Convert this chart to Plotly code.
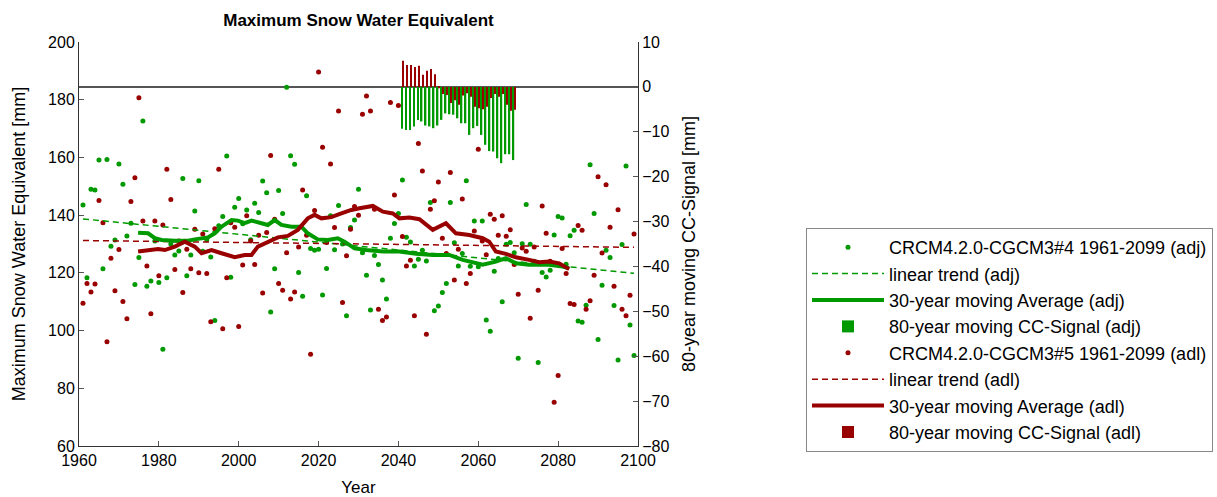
import plotly.graph_objects as go

years = list(range(1961, 2100))

swe_adj = [
    143.5, 118.3, 149.0, 148.7, 159.1, 121.4, 159.3, 129.2, 131.4, 157.7,
    150.7, 132.8, 137.2, 116.0, 125.3, 172.6, 115.4, 117.2, 131.0, 116.7,
    93.5, 118.3, 130.0, 126.2, 127.6, 152.7, 119.0, 126.2, 141.4, 151.9,
    127.5, 131.5, 125.5, 103.5, 136.3, 139.5, 160.5, 118.5, 142.7, 145.8,
    137.0, 141.8, 131.5, 144.1, 140.9, 151.8, 147.8, 106.4, 121.4, 148.5,
    140.6, 184.3, 160.6, 157.6, 120.1, 111.9, 146.7, 128.4, 127.8, 128.2,
    112.3, 121.5, 139.8, 128.0, 143.3, 130.0, 105.1, 135.7, 138.3, 149.0,
    127.0, 119.2, 107.1, 126.0, 122.9, 117.5, 110.9, 132.0, 137.1, 140.6,
    152.2, 132.3, 130.7, 122.4, 124.7, 127.8, 124.1, 144.4, 106.9, 108.5,
    113.2, 116.3, 144.4, 130.4, 122.4, 126.7, 151.9, 122.3, 138.0, 122.1,
    138.0, 103.7, 99.8, 120.6, 125.0, 110.0, 129.9, 130.5, 127.0, 90.4,
    130.1, 143.7, 129.9, 124.0, 88.9, 120.1, 118.6, 120.9, 133.1, 139.5,
    139.0, 123.0, 132.9, 134.8, 103.3, 102.9, 108.8, 157.5, 140.6, 96.9,
    115.7, 127.8, 125.3, 108.7, 89.8, 129.8, 157.0, 101.9, 91.4,
]

swe_adl = [
    109.5, 116.3, 113.4, 116.1, 145.1, 137.4, 96.1, 125.1, 113.8, 128.1,
    110.1, 104.1, 144.7, 153.0, 180.7, 138.0, 122.4, 105.8, 138.0, 119.0,
    136.6, 155.9, 145.4, 121.2, 131.0, 113.2, 128.2, 121.4, 135.1, 120.0,
    133.5, 119.8, 103.1, 135.3, 155.9, 100.6, 118.3, 137.4, 135.8, 101.4,
    122.7, 139.8, 131.0, 122.9, 133.0, 113.0, 134.0, 160.7, 138.6, 116.3,
    114.0, 127.0, 110.9, 113.4, 129.0, 148.7, 133.0, 91.8, 141.6, 189.6,
    163.5, 130.5, 157.7, 135.7, 176.1, 109.7, 125.9, 135.1, 143.0, 140.0,
    175.0, 181.3, 176.1, 142.0, 107.4, 103.5, 104.7, 179.0, 147.0, 178.0,
    132.6, 122.4, 124.4, 105.1, 164.8, 155.3, 98.7, 142.0, 145.0, 151.5,
    132.0, 126.7, 154.8, 117.5, 128.2, 145.6, 116.3, 119.8, 134.5, 162.8,
    131.0, 126.3, 140.3, 138.6, 133.0, 139.8, 132.7, 134.9, 122.9, 112.6,
    128.6, 127.5, 104.3, 129.0, 114.0, 143.2, 133.7, 124.0, 75.2, 84.4,
    128.4, 119.8, 109.4, 109.0, 136.4, 134.8, 107.4, 110.3, 119.2, 153.3,
    126.9, 150.5, 135.8, 115.4, 141.9, 107.4, 105.1, 112.2, 133.5,
]

trend_years = [1961, 2099]
trend_adj = [138.7, 119.85]
trend_adl = [131.2, 128.85]

avg_adj_years = [1974.8, 1977.3, 1979.0, 1980.7, 1984.0, 1987.3, 1989.0, 1992.3, 1994.0,
                 1995.7, 1998.2, 1999.8, 2001.5, 2003.2, 2005.7, 2007.3, 2009.0, 2010.7,
                 2013.2, 2015.7, 2017.3, 2019.8, 2022.3, 2024.8, 2026.5, 2029.0, 2031.9,
                 2036.1, 2040.25, 2044.4, 2048.6, 2052.75, 2056.1, 2057.75, 2061.1,
                 2064.4, 2066.9, 2069.4, 2072.75, 2075.25, 2077.75, 2081.1, 2082.75]
avg_adj = [133.9, 133.7, 132.0, 131.4, 131.1, 131.1, 131.6, 132.3, 133.7,
           136.0, 138.3, 138.1, 137.2, 138.1, 137.2, 136.6, 138.3, 136.6,
           136.0, 136.0, 133.7, 131.6, 131.4, 132.0, 130.8, 128.5, 127.9,
           127.4, 127.4, 126.6, 126.2, 126.2, 124.5, 123.9, 122.8,
           123.9, 125.1, 123.3, 122.8, 122.8, 122.8, 122.2, 121.6]

avg_adl_years = [1974.8, 1977.3, 1979.8, 1981.5, 1984.0, 1986.5, 1989.0, 1990.7, 1993.2,
                 1995.7, 1999.0, 2001.5, 2003.2, 2004.8, 2007.3, 2009.8, 2012.3, 2014.8,
                 2017.3, 2019.0, 2020.7, 2023.2, 2025.7, 2028.2, 2030.25, 2033.6, 2036.1,
                 2038.6, 2040.25, 2042.75, 2045.25, 2048.6, 2051.9, 2054.4, 2057.75,
                 2061.1, 2062.75, 2064.4, 2066.9, 2069.4, 2072.75, 2075.25, 2077.75,
                 2080.25, 2082.75]
avg_adl = [127.4, 127.9, 128.3, 127.9, 129.1, 130.8, 129.1, 126.8, 127.9,
           126.8, 125.4, 126.2, 126.2, 129.1, 130.8, 132.3, 132.8, 134.9,
           138.9, 140.1, 138.9, 139.3, 140.6, 141.8, 142.4, 143.2, 141.2,
           140.6, 138.9, 139.2, 138.6, 134.9, 137.2, 133.7, 133.1,
           132.0, 130.8, 127.4, 126.6, 125.4, 124.5, 123.7, 123.9,
           123.3, 121.3]

cc_years = list(range(2041, 2070))
cc_adj = [-9.35, -9.6, -9.6, -8.8, -7.35, -7.7, -8.6, -8.8, -9.2, -8.6,
          -7.35, -5.9, -6.1, -6.2, -7.0, -8.1, -8.1, -10.7, -9.2, -8.7,
          -10.7, -12.9, -14.3, -14.4, -15.9, -17.0, -15.0, -15.0, -16.3]
cc_adl = [5.8, 4.9, 4.9, 4.45, 4.7, 2.7, 3.6, 4.0, 2.8, -0.3,
          -1.6, -1.8, -3.6, -3.0, -4.0, -1.9, -1.4, -2.2, -4.4, -4.75,
          -5.0, -4.4, -2.5, -1.6, -2.2, -1.6, -4.0, -5.3, -5.1]

GREEN = "#009a00"
RED = "#990000"
FONT = "Liberation Sans, Arial, Helvetica, sans-serif"

fig = go.Figure()

fig.add_trace(go.Scatter(x=years, y=swe_adj, mode="markers", name="CRCM4.2.0-CGCM3#4 1961-2099 (adj)",
                         marker=dict(color=GREEN, size=5), legendrank=1, legendgroup="g1"))
fig.add_trace(go.Scatter(x=years, y=swe_adl, mode="markers", name="CRCM4.2.0-CGCM3#5 1961-2099 (adl)",
                         marker=dict(color=RED, size=5), legendrank=5, legendgroup="g5"))
fig.add_trace(go.Scatter(x=trend_years, y=trend_adj, mode="lines", name="linear trend (adj)",
                         line=dict(color=GREEN, width=1.5, dash="6px,4px"), legendrank=2, legendgroup="g2"))
fig.add_trace(go.Scatter(x=trend_years, y=trend_adl, mode="lines", name="linear trend (adl)",
                         line=dict(color=RED, width=1.5, dash="6px,4px"), legendrank=6, legendgroup="g6"))
fig.add_trace(go.Scatter(x=avg_adj_years, y=avg_adj, mode="lines", name="30-year moving Average (adj)",
                         line=dict(color=GREEN, width=4), legendrank=3, legendgroup="g3"))
fig.add_trace(go.Scatter(x=avg_adl_years, y=avg_adl, mode="lines", name="30-year moving Average (adl)",
                         line=dict(color=RED, width=4), legendrank=7, legendgroup="g7"))
fig.add_trace(go.Bar(x=cc_years, y=cc_adj, name="80-year moving CC-Signal (adj)", yaxis="y2",
                     marker=dict(color=GREEN, line=dict(width=0)), legendrank=4, legendgroup="g4"))
fig.add_trace(go.Bar(x=cc_years, y=cc_adl, name="80-year moving CC-Signal (adl)", yaxis="y2",
                     marker=dict(color=RED, line=dict(width=0)), legendrank=8, legendgroup="g8"))

axis_common = dict(showgrid=False, showline=True, linecolor="#333333", linewidth=1,
                   ticks="inside", ticklen=5, tickcolor="#555555",
                   tickfont=dict(family=FONT, size=16, color="black"))

fig.update_layout(
    width=1217, height=497,
    margin=dict(l=79, r=579, t=42, b=51, autoexpand=False),
    paper_bgcolor="white", plot_bgcolor="white",
    font=dict(family=FONT, color="black"),
    title=dict(text="<b>Maximum Snow Water Equivalent</b>", x=358.5 / 1217, xanchor="center",
               y=1 - 20 / 497, yanchor="middle", font=dict(family=FONT, size=17, color="black")),
    xaxis=dict(range=[1960, 2100], dtick=20, tick0=1960, zeroline=False,
               title=dict(text="Year", font=dict(family=FONT, size=17), standoff=12),
               **axis_common),
    yaxis=dict(range=[60, 200], dtick=20, tick0=60, zeroline=False,
               title=dict(text="Maximum Snow Water Equivalent [mm]", font=dict(family=FONT, size=18), standoff=17),
               **axis_common),
    yaxis2=dict(range=[-80, 10], dtick=10, tick0=-80, overlaying="y", side="right",
                zeroline=True, zerolinecolor="#555555", zerolinewidth=1.5,
                title=dict(text="80-year moving CC-Signal [mm]", font=dict(family=FONT, size=18), standoff=13),
                **axis_common),
    barmode="group", bargap=0.3, bargroupgap=0.0,
    legend=dict(xref="container", yref="container", x=806 / 1217, y=1 - 228 / 497,
                xanchor="left", yanchor="top", bgcolor="white", bordercolor="#888888",
                borderwidth=1, font=dict(family=FONT, size=18, color="black"),
                traceorder="grouped", tracegroupgap=0, itemwidth=72),
    showlegend=True,
)

fig.write_html("out.html")
